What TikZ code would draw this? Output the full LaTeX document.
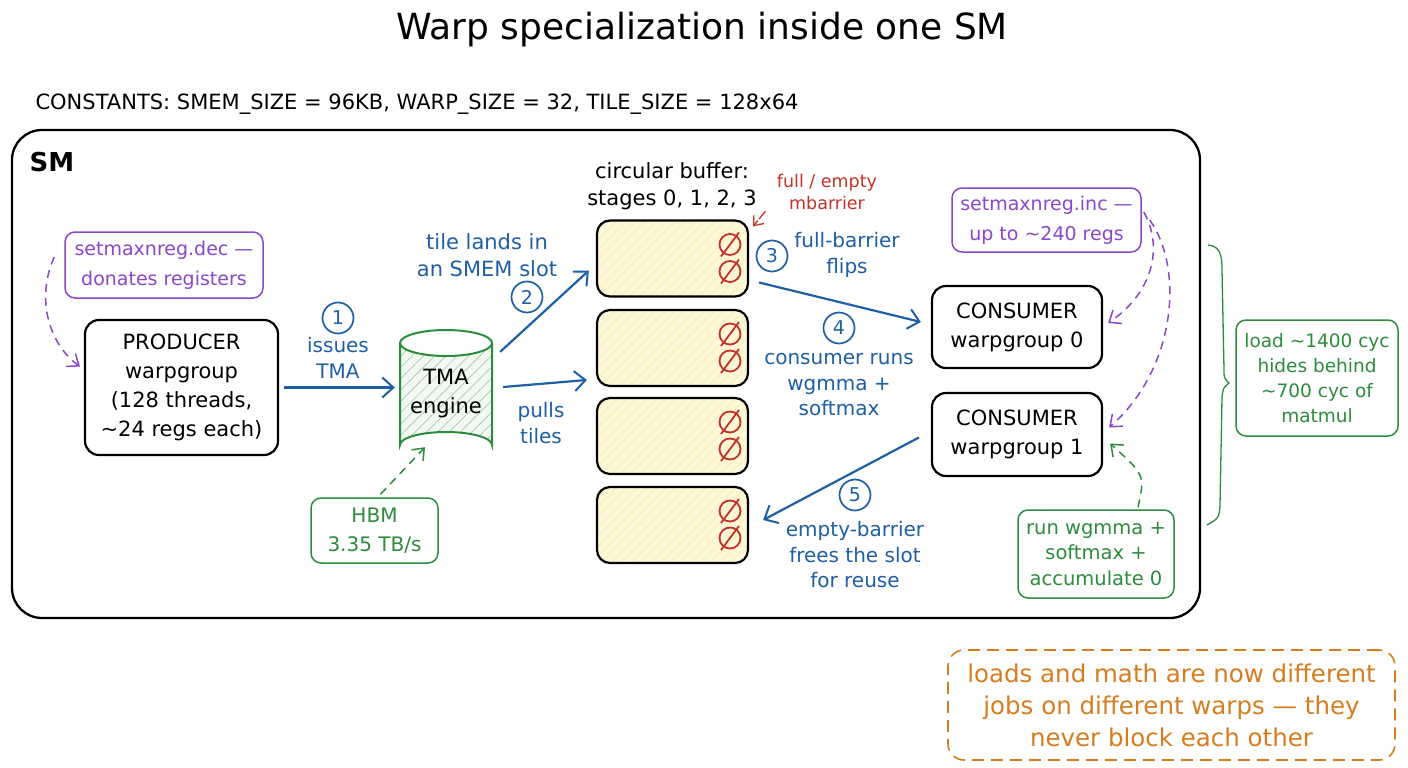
\documentclass[tikz,border=0pt]{standalone}
\usepackage{fontspec}
\setmainfont{DejaVu Sans}
\usetikzlibrary{arrows.meta,patterns.meta,calc}
\definecolor{cblue}{RGB}{30,95,165}
\definecolor{cpurple}{RGB}{140,70,200}
\definecolor{cgreen}{RGB}{45,140,60}
\definecolor{cred}{RGB}{195,50,40}
\definecolor{corange}{RGB}{215,125,30}
\definecolor{cyell}{RGB}{253,248,220}
\newcommand{\fs}[2]{\fontsize{#1}{#2}\selectfont}
\tikzset{
  box/.style={draw, line width=2.2pt, rounded corners=14pt, align=center, inner sep=2pt, font=\fs{21}{29}},
  pbox/.style={draw=cpurple, text=cpurple, line width=1.5pt, rounded corners=10pt, align=center, inner sep=2pt, font=\fs{19}{30}},
  gbox/.style={draw=cgreen, text=cgreen, line width=1.5pt, rounded corners=10pt, align=center, inner sep=2pt, font=\fs{19.5}{25.5}},
  slot/.style={draw, line width=2.2pt, rounded corners=13pt, minimum width=151pt, minimum height=76pt,
     preaction={fill=cyell}, preaction={pattern={Lines[angle=45,distance=7pt,line width=0.7pt]}, pattern color=yellow!70!orange!40}},
  lbl/.style={align=center, text=cblue, font=\fs{20}{25.5}},
  num/.style={circle, draw=cblue, text=cblue, line width=1.7pt, minimum size=31pt, inner sep=0pt, font=\fs{19}{22}},
  arr/.style={draw=cblue, line width=2.2pt, -{Straight Barb[length=11pt,width=20pt,line width=2pt]}},
  pdash/.style={draw=cpurple, line width=1.5pt, dash pattern=on 8pt off 6pt, -{Straight Barb[length=10pt,width=16pt,line width=1.5pt]}},
  gdash/.style={draw=cgreen, line width=1.5pt, dash pattern=on 8pt off 6pt, -{Straight Barb[length=10pt,width=16pt,line width=1.5pt]}},
}
\newcommand{\barsym}[2]{%
  \draw[cred, line width=1.8pt] (#1,#2) circle[radius=10.5];
  \draw[cred, line width=1.8pt] (#1-9,#2+12) -- (#1+9,#2-12);}
\begin{document}
\begin{tikzpicture}[x=1pt,y=-1pt]
\useasboundingbox (0,0) rectangle (1408,768);
\fill[white] (0,0) rectangle (1408,768);
% title
\node[font=\fs{36}{42}] (title) at (702,30) {Warp specialization inside one SM};
\node[anchor=west, font=\fs{21}{25}] (const) at (32,104) {CONSTANTS: SMEM\_SIZE = 96KB, WARP\_SIZE = 32, TILE\_SIZE = 128x64};
% SM frame
\draw[line width=2.3pt, rounded corners=30pt] (12,130) rectangle (1200,618);
\node[font=\bfseries\fs{26}{30}] (sm) at (52,162) {SM};
% producer side
\node[pbox, minimum width=198pt, minimum height=66pt] (dec) at (164,265) {setmaxnreg.dec —\\donates registers};
\node[box, minimum width=193pt, minimum height=135pt] (prod) at (181.5,387.5) {PRODUCER\\warpgroup\\(128 threads,\\\textasciitilde24 regs each)};
\draw[pdash] ([shift={(-10,-8)}]dec.west) .. controls (35,300) and (50,345) .. ([shift={(-4,-21)}]prod.west);
% TMA cylinder
\node[minimum width=92pt, minimum height=128pt, inner sep=0pt] (tma) at (446,394) {};
\fill[cgreen!6] (400,343) -- (400,445) arc[start angle=180,end angle=360,x radius=46,y radius=13] -- (492,343) arc[start angle=0,end angle=180,x radius=46,y radius=13] -- cycle;
\fill[pattern={Lines[angle=45,distance=8pt,line width=0.7pt]}, pattern color=cgreen!45] (400,343) -- (400,445) arc[start angle=180,end angle=360,x radius=46,y radius=13] -- (492,343) arc[start angle=0,end angle=180,x radius=46,y radius=13] -- cycle;
\draw[cgreen, line width=2pt] (400,343) -- (400,445) arc[start angle=180,end angle=360,x radius=46,y radius=13] -- (492,343);
\draw[cgreen, line width=2pt] (446,343) ellipse[x radius=46, y radius=13];
\node[align=center, font=\fs{21}{29}] (tmatxt) at (446,394) {TMA\\engine};
\node[gbox, minimum width=127pt, minimum height=65pt, font=\fs{20}{29}] (hbm) at (374.5,530.5) {HBM\\3.35 TB/s};
\draw[gdash] ([shift={(6,-3)}]hbm.north) -- ([shift={(-21,-11)}]tma.south);
% arrow 1
\draw[arr] ([xshift=5pt]prod.east) -- ([xshift=-5pt]prod.east -| tma.west);
\node[num] (n1) at (338,318) {1};
\node[lbl] (l1) at (338,358) {issues\\TMA};
% buffer slots
\node[slot] (s0) at (672.5,258.5) {};
\node[slot] (s1) at (672.5,348) {};
\node[slot] (s2) at (672.5,436) {};
\node[slot] (s3) at (672.5,525) {};
\foreach \y in {258.5,348,436,525} { \barsym{730}{\y-14} \barsym{730}{\y+13} }
\node[align=center, font=\fs{21}{27}] (cbuf) at (672,186) {circular buffer:\\stages 0, 1, 2, 3};
\node[align=center, text=cred, font=\fs{17.5}{22}] (mb) at (827,192) {full / empty\\mbarrier};
\draw[cred, line width=1.3pt, dash pattern=on 10pt off 2pt, -{Straight Barb[length=8pt,width=13pt,line width=1.3pt]}] ([shift={(-8,-2)}]mb.south west) -- ([shift={(4,7)}]s0.north east);
% arrow 2
\draw[arr] ([shift={(8,22)}]tma.north east) -- ([shift={(-7,12)}]s0.west);
\node[num] (n2) at (527,297) {2};
\node[lbl, font=\fs{21}{27}] (l2) at (487,255) {tile lands in\\an SMEM slot};
% pulls tiles
\draw[arr] ([shift={(11,-7)}]tma.east) -- ([shift={(-9,32)}]s1.west);
\node[lbl] (lp) at (541,423) {pulls\\tiles};
% consumers
\node[box, minimum width=170pt, minimum height=82pt] (c0) at (1017,327) {CONSUMER\\warpgroup 0};
\node[box, minimum width=170pt, minimum height=83pt] (c1) at (1017,434.5) {CONSUMER\\warpgroup 1};
% arrow 3
\draw[arr] ([shift={(10,24)}]s0.east) -- ([shift={(-10,-5)}]c0.west);
\node[num] (n3) at (772,256) {3};
\node[lbl] (l3) at (847,255) {full-barrier\\flips};
\node[num] (n4) at (839,328) {4};
\node[lbl] (l4) at (839,385) {consumer runs\\wgmma +\\softmax};
% arrow 5
\draw[arr] ([shift={(-12,3)}]c1.west) -- ([shift={(14,-5)}]s3.east);
\node[num] (n5) at (855,495) {5};
\node[lbl] (l5) at (855,555) {empty-barrier\\frees the slot\\for reuse};
% setmaxnreg.inc
\node[pbox, minimum width=189pt, minimum height=64pt] (inc) at (1046.5,220) {setmaxnreg.inc —\\up to \textasciitilde240 regs};
\draw[pdash] ([shift={(2,-8)}]inc.east) .. controls (1165,250) and (1150,295) .. ([shift={(5,-4)}]c0.east);
\draw[pdash] ([shift={(8,0)}]inc.east) .. controls (1185,270) and (1175,370) .. ([shift={(6,-7)}]c1.east);
% run box
\node[gbox, minimum width=156pt, minimum height=88pt] (run) at (1096,554) {run wgmma +\\softmax +\\accumulate 0};
\draw[gdash] ([shift={(42,-2)}]run.north) .. controls (1145,475) .. ([shift={(7,9)}]c1.east);
% brace
\draw[cgreen, line width=1.3pt] (1208,245) .. controls (1220,246) and (1222,255) .. (1222,270) -- (1224,370) .. controls (1224,378) .. (1229,383) .. controls (1223,388) .. (1222,398) -- (1220,505) .. controls (1219,518) .. (1207,525);
\node[gbox, minimum width=162pt, minimum height=116pt, font=\fs{18.5}{25}] (load) at (1317,378) {load \textasciitilde1400 cyc\\hides behind\\\textasciitilde700 cyc of\\matmul};
% orange note
\node[draw=corange, text=corange, line width=1.6pt, dash pattern=on 12pt off 7pt, rounded corners=16pt, align=center, font=\fs{24.5}{32}, minimum width=447pt, minimum height=110pt] (note) at (1171.5,705) {loads and math are now different\\jobs on different warps — they\\never block each other};
\end{tikzpicture}
\end{document}
